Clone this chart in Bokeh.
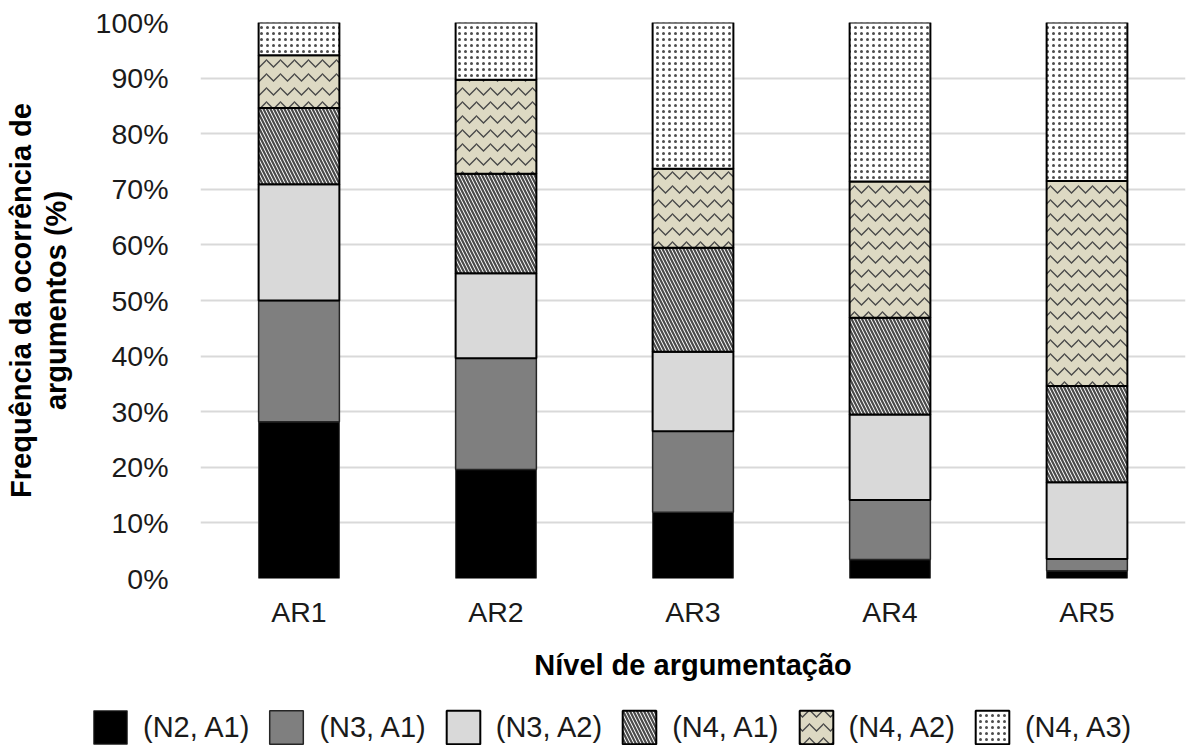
from bokeh.plotting import figure
from bokeh.models import (FactorRange, Range1d, PrintfTickFormatter, FixedTicker,
                          Legend, LegendItem, ColumnDataSource)
from bokeh.layouts import column
from bokeh.embed import file_html
from bokeh.resources import INLINE
import numpy as np

# ---------------- data ----------------
categories = ["AR1", "AR2", "AR3", "AR4", "AR5"]
series_names = ["(N2, A1)", "(N3, A1)", "(N3, A2)", "(N4, A1)", "(N4, A2)", "(N4, A3)"]
n2_a1 = [28.2, 19.6, 11.9, 3.4, 1.4]
n3_a1 = [21.8, 20.0, 14.6, 10.7, 2.1]
n3_a2 = [20.9, 15.3, 14.3, 15.4, 13.8]
n4_a1 = [13.7, 17.9, 18.7, 17.4, 17.3]
n4_a2 = [9.5, 16.9, 14.2, 24.5, 36.9]
n4_a3 = [5.9, 10.3, 26.3, 28.6, 28.5]
y_ticks = [0, 10, 20, 30, 40, 50, 60, 70, 80, 90, 100]
x_title = "Nível de argumentação"
y_title = "Frequência da ocorrência de\nargumentos (%)"

series = [n2_a1, n3_a1, n3_a2, n4_a1, n4_a2, n4_a3]

# ---------------- styles ----------------
FONT = "Liberation Sans"
styles = [
    dict(fill_color="#000000", line_color="#3a3a3a", line_width=1),
    dict(fill_color="#7f7f7f", line_color="#262626", line_width=1.5),
    dict(fill_color="#d9d9d9", line_color="#000000", line_width=2),
    dict(fill_color="#ffffff", line_color="#000000", line_width=2, hatch_pattern="\\",
         hatch_color="#4a4a4a", hatch_scale=7, hatch_weight=2.2),
    dict(fill_color="#ddd9c3", line_color="#000000", line_width=2, hatch_pattern="v",
         hatch_color="#4a4a4a", hatch_scale=14, hatch_weight=1.3),
    dict(fill_color="#ffffff", line_color="#000000", line_width=2, hatch_pattern=".",
         hatch_color="#4d4d4d", hatch_scale=6, hatch_weight=4),
]

W = 1186
H_MAIN = 690
H_LEG = 55

p = figure(x_range=FactorRange(*categories), y_range=Range1d(0, 100),
           width=W, height=H_MAIN, output_backend="svg", toolbar_location=None,
           min_border_left=200, min_border_right=1, min_border_top=22,
           min_border_bottom=H_MAIN - 22 - 556)
p.frame_align = False
p.outline_line_color = None
p.background_fill_color = "white"

sources = []
bottom = np.zeros(len(categories))
for name, vals, st in zip(series_names, series, styles):
    vals = np.array(vals, dtype=float)
    top = bottom + vals
    src = ColumnDataSource(dict(x=categories, bottom=bottom.copy(), top=top.copy()))
    p.vbar(x="x", bottom="bottom", top="top", width=0.41, source=src, **st)
    sources.append(src)
    bottom = top

# grid
p.xgrid.grid_line_color = None
p.ygrid.ticker = FixedTicker(ticks=y_ticks)
p.ygrid.grid_line_color = "#d9d9d9"
p.ygrid.grid_line_width = 2
p.ygrid.level = "underlay"

# y axis
p.yaxis.ticker = FixedTicker(ticks=y_ticks)
p.yaxis.formatter = PrintfTickFormatter(format="%d%%")
p.yaxis.axis_line_color = None
p.yaxis.major_tick_line_color = None
p.yaxis.minor_tick_line_color = None
p.yaxis.major_label_standoff = 26
p.yaxis.major_label_text_font = FONT
p.yaxis.major_label_text_font_size = "28.5px"
p.yaxis.major_label_text_color = "#1a1a1a"
p.yaxis.axis_label = y_title
p.yaxis.axis_label_text_font = FONT
p.yaxis.axis_label_text_font_size = "29px"
p.yaxis.axis_label_text_font_style = "bold"
p.yaxis.axis_label_text_color = "#000000"
p.yaxis.axis_label_standoff = 21
p.yaxis.axis_label_text_line_height = 1.08

# x axis
p.xaxis.axis_line_color = None
p.xaxis.major_tick_line_color = None
p.xaxis.minor_tick_line_color = None
p.xaxis.major_label_standoff = 11
p.xaxis.major_label_text_font = FONT
p.xaxis.major_label_text_font_size = "28.5px"
p.xaxis.major_label_text_color = "#1a1a1a"
p.xaxis.axis_label = x_title
p.xaxis.axis_label_text_font = FONT
p.xaxis.axis_label_text_font_size = "29px"
p.xaxis.axis_label_text_font_style = "bold"
p.xaxis.axis_label_text_color = "#000000"
p.xaxis.axis_label_standoff = 18

# ---------------- legend strip (same data, renderers hidden) ----------------
lf = figure(width=W, height=H_LEG, output_backend="svg", toolbar_location=None,
            x_range=FactorRange(*categories), y_range=Range1d(0, 100),
            x_axis_location=None, y_axis_location=None,
            min_border_left=0, min_border_right=0, min_border_top=0, min_border_bottom=0)
lf.frame_align = False
lf.outline_line_color = None
lf.xgrid.visible = False
lf.ygrid.visible = False

items = []
for name, st, src in zip(series_names, styles, sources):
    r = lf.vbar(x="x", bottom="bottom", top="top", width=0.41, source=src, **st)
    r.visible = False
    items.append(LegendItem(label=name, renderers=[r]))

legend = Legend(items=items, orientation="horizontal", location=(89, -3),
                label_text_font=FONT, label_text_font_size="29px",
                label_text_color="#1a1a1a",
                glyph_width=42, glyph_height=42, label_standoff=12, spacing=16,
                padding=0, margin=0, border_line_alpha=0, background_fill_alpha=0,
                inactive_fill_alpha=0)
lf.add_layout(legend)

layout = column(p, lf, spacing=0)
open("out.html", "w").write(file_html(layout, INLINE))
